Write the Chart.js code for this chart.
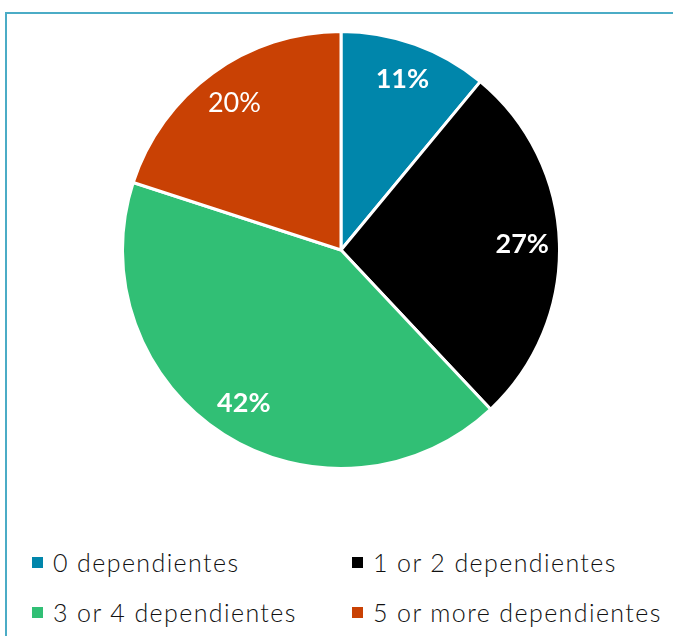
<!DOCTYPE html>
<html>
<head>
<meta charset="utf-8">
<script src="https://cdn.jsdelivr.net/npm/chart.js@4"></script>
<style>
  html, body { margin: 0; padding: 0; background: #fff; overflow: hidden; }
  body { width: 673px; height: 636px; position: relative; font-family: Lato, "Open Sans", sans-serif; }
  #frame {
    position: absolute; left: 5px; top: 12px; width: 700px; height: 700px;
    border: 2px solid #4bacc6; box-sizing: border-box;
  }
  #pieBox { position: absolute; left: 121px; top: 30px; width: 440px; height: 440px; }
  .legend-item {
    position: absolute; display: flex; align-items: center;
    font-size: 25px; font-weight: 300; color: #111; white-space: nowrap; height: 30px; letter-spacing: 1.4px;
  }
  .legend-item span.box { display: inline-block; width: 11px; height: 11px; margin-right: 10px; }
</style>
</head>
<body>
<div id="frame"></div>
<div id="pieBox"><canvas id="dependentsChart"></canvas></div>
<div id="legend"></div>
<script>
// Data block
const dependentsLabels = ['0 dependientes', '1 or 2 dependientes', '3 or 4 dependientes', '5 or more dependientes'];
const dependentsShare = [11, 27, 42, 20];
const dependentsColors = ['#0086ab', '#000000', '#31bf75', '#c94104'];
const labelWeights = ['bold', 'bold', 'bold', 'normal'];

// Percent labels plugin block
const sliceLabels = {
    id: 'sliceLabels',
    afterDatasetsDraw(chart) {
        const ctx = chart.ctx;
        const meta = chart.getDatasetMeta(0);
        ctx.save();
        ctx.fillStyle = '#ffffff';
        ctx.textAlign = 'center';
        ctx.textBaseline = 'middle';
        meta.data.forEach((arc, i) => {
            const p = arc.getProps(['x', 'y', 'startAngle', 'endAngle', 'outerRadius'], true);
            const mid = (p.startAngle + p.endAngle) / 2;
            const r = p.outerRadius * 0.83;
            ctx.font = labelWeights[i] + ' 27px Lato, "Open Sans", sans-serif';
            ctx.fillText(dependentsShare[i] + '%', p.x + Math.cos(mid) * r, p.y + Math.sin(mid) * r);
        });
        ctx.restore();
    }
};

// Config block
const dependentsConfig = {
    type: 'pie',
    data: {
        labels: dependentsLabels,
        datasets: [{
            data: dependentsShare,
            backgroundColor: dependentsColors,
            borderColor: '#ffffff',
            borderWidth: 3
        }]
    },
    options: {
        responsive: true,
        maintainAspectRatio: false,
        animation: false,
        layout: { padding: 0 },
        plugins: {
            legend: { display: false },
            tooltip: { enabled: false }
        }
    },
    plugins: [sliceLabels]
};

const dependentsChart = new Chart(document.getElementById('dependentsChart'), dependentsConfig);

// HTML legend, two columns
const legendCols = [32, 352];
const legendRows = [547, 597];
const legendEl = document.getElementById('legend');
dependentsLabels.forEach((label, i) => {
    const item = document.createElement('div');
    item.className = 'legend-item';
    item.style.left = legendCols[i % 2] + 'px';
    item.style.top = legendRows[Math.floor(i / 2)] + 'px';
    item.innerHTML = '<span class="box" style="background:' + dependentsColors[i] + '"></span>' + label;
    legendEl.appendChild(item);
});
</script>
</body>
</html>
